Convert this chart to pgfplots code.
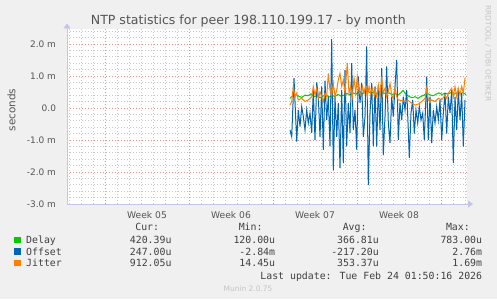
\documentclass[border=0pt]{standalone}
\usepackage{pgfplots}
\pgfplotsset{compat=1.18}
\usepackage{fontspec}
\setmainfont{DejaVu Sans}
\newfontfamily\monofont{DejaVu Sans Mono}
\usetikzlibrary{arrows.meta}
\definecolor{bgc}{HTML}{F0F0F0}
\definecolor{delayc}{HTML}{00CC00}
\definecolor{offsetc}{HTML}{0066B3}
\definecolor{jitterc}{HTML}{FF8000}
\definecolor{gridc}{HTML}{C8C8C8}
\definecolor{mgridc}{HTML}{E09090}
\definecolor{axisc}{HTML}{C4C4EC}
\definecolor{txtc}{HTML}{555555}
\definecolor{faintc}{HTML}{C4C4C4}
\begin{document}
\begin{tikzpicture}[x=1bp,y=1bp]
\fill[bgc] (0,0) rectangle (497,299);
\begin{axis}[
  at={(67bp,95bp)}, anchor=south west,
  scale only axis, width=400bp, height=174.5bp,
  xmin=67, xmax=467, ymin=-3, ymax=2.45,
  axis background/.style={fill=white},
  axis x line=bottom, axis y line=left,
  axis line style={draw=axisc, line width=0.9bp, -{Triangle[length=5bp,width=7bp]}, shorten >=-6bp},
  tick style={draw=none},
  xtick={147,231,315,399},
  xticklabels={Week 05,Week 06,Week 07,Week 08},
  xticklabel style={font=\fontsize{9.2}{10}\selectfont, text=txtc, anchor=base, inner sep=0pt, yshift=-12bp},
  extra x ticks={105,189,273,357,441},
  extra x tick labels={},
  extra x tick style={grid=major},
  minor xtick={69,81,...,465},
  xminorgrids,
  ytick={-3,-2,-1,0,1,2},
  yticklabels={-3.0 m,-2.0 m,-1.0 m,0.0,1.0 m,2.0 m},
  yticklabel style={font=\fontsize{9}{10}\selectfont, text=txtc, anchor=east, inner sep=0pt, xshift=-8.7bp},
  ymajorgrids,
  minor ytick={-2.8,-2.6,-2.4,-2.2,-1.8,-1.6,-1.4,-1.2,-0.8,-0.6,-0.4,-0.2,0.2,0.4,0.6,0.8,1.2,1.4,1.6,1.8,2.2,2.4},
  yminorgrids,
  minor grid style={draw=gridc, dash pattern=on 1bp off 2bp, line width=0.7bp},
  major grid style={draw=mgridc, dash pattern=on 1bp off 2bp, line width=0.7bp},
  clip=false,
]
\addplot[draw=delayc, line width=1bp] coordinates {
(290,0.30)(293,0.40)(296,0.42)(299,0.36)(302,0.33)(305,0.40)(308,0.38)(311,0.44)(314,0.35)(317,0.39)(320,0.32)(323,0.37)(326,0.41)(329,0.34)(332,0.38)(335,0.36)(338,0.42)(341,0.37)(344,0.40)(347,0.45)(350,0.41)(353,0.47)(356,0.43)(359,0.50)(362,0.44)(365,0.48)(368,0.52)(371,0.46)(374,0.50)(377,0.45)(380,0.43)(383,0.48)(386,0.44)(389,0.47)(392,0.42)(395,0.45)(398,0.40)(401,0.48)(403,0.55)(406,0.42)(409,0.36)(412,0.32)(415,0.35)(418,0.30)(421,0.36)(424,0.40)(427,0.46)(430,0.41)(433,0.38)(436,0.43)(439,0.47)(442,0.42)(445,0.46)(448,0.44)(451,0.48)(454,0.43)(457,0.47)(460,0.44)(463,0.48)(466,0.42)
};
\addplot[draw=offsetc, line width=1bp] coordinates {
(290,-0.69)(291.7,-0.90)(294,0.93)(296.7,-1.05)(298.3,-0.06)(300,-0.58)(301.7,0.04)(303.3,-0.27)(305,-0.69)(306.7,-0.06)(308.3,-0.47)(310,-0.16)(311.7,-0.78)(313.3,0.55)(315,-1.0)(316.7,0.80)(318.3,0.35)(320,-0.90)(321.7,0.67)(323.3,-1.31)(325,0.85)(326.7,-0.38)(328.3,0.35)(330,-1.2)(331.7,2.15)(333.3,-1.95)(335,0.35)(336.7,-0.90)(338.3,0.16)(340,-1.88)(341.7,0.56)(343.3,-1.72)(345,1.19)(346.7,-1.2)(348.3,0.16)(350,-0.78)(351.7,1.40)(353.3,-0.69)(355,-0.06)(356.7,-1.3)(358.3,0.97)(360,0.16)(361.7,0.78)(363.3,-0.90)(365,-0.27)(366.7,1.92)(368.3,-2.40)(370,-0.16)(371.7,0.78)(373.3,-1.2)(375,0.67)(376.7,-1.21)(378.3,0.67)(380,-0.69)(381.7,1.25)(383.3,-1.47)(385,-0.27)(386.7,1.30)(388.3,-0.47)(390,-1.09)(391.7,0.35)(393.3,-0.27)(395,0.67)(396.7,1.50)(398.3,-1.0)(400,0.16)(401.7,-0.38)(403.3,0.35)(405,-0.06)(406.7,0.56)(408.3,-0.69)(409.3,-1.56)(411,-0.16)(412.7,0.25)(414.3,-0.80)(416,-0.06)(417.7,-0.47)(419.3,0.04)(421,-0.38)(422.7,-0.16)(424.3,-1.0)(426.7,0.98)(428.3,-1.0)(430,0.35)(431.7,-1.1)(433.3,-0.06)(435,-0.47)(436.7,0.04)(438.3,-0.38)(440,0.25)(441.7,-1.0)(443.3,-0.16)(445,0.47)(446.7,-0.8)(448.3,0.35)(450,-0.16)(451.7,0.56)(453.3,-1.72)(455,0.35)(456.7,-0.69)(458.3,0.56)(460,-0.38)(461.7,0.47)(463.3,-1.21)(465,0.25)
};
\addplot[draw=jitterc, line width=1bp] coordinates {
(290,0.09)(291.7,0.20)(293.3,0.67)(295,0.35)(296.7,0.46)(298.3,0.25)(301.7,0.30)(305,0.20)(308.3,0.25)(311.7,0.35)(313.3,0.67)(315,0.40)(316.7,0.62)(318.3,0.30)(320,0.51)(321.7,0.35)(323.3,0.20)(325,0.46)(326.7,0.35)(328.3,1.08)(330,0.56)(331.7,0.40)(333.3,0.77)(335,0.35)(336.7,0.56)(338.3,0.88)(340,1.08)(341.7,0.67)(343.3,0.88)(345,0.46)(347.3,1.40)(349,0.46)(350.7,0.67)(352.3,0.35)(354,0.93)(355.7,0.46)(357.3,0.98)(359,0.51)(360.7,0.40)(362.3,0.67)(364,0.46)(365.7,0.72)(367.3,0.35)(369,0.67)(370.7,0.46)(372.3,0.62)(374.3,0.40)(375,0.56)(376.7,0.35)(378.3,0.72)(380,0.35)(381.7,0.98)(383.3,0.46)(385,0.62)(386.7,0.35)(388.3,0.51)(390,0.77)(391.7,0.40)(393.3,0.30)(395,0.62)(396.7,0.35)(398.3,0.25)(401.7,0.23)(405,0.20)(408.3,0.23)(411.7,0.15)(415,0.09)(418.3,0.12)(421.7,0.20)(425,0.30)(426.7,0.62)(428.3,0.25)(430,0.20)(431.7,0.25)(435,0.20)(438.3,0.30)(441.7,0.25)(445,0.40)(446.7,0.30)(448.3,0.46)(451.7,0.62)(453.3,0.35)(455,0.67)(456.7,0.35)(458.3,0.62)(460,0.40)(461.7,0.67)(463.3,0.46)(465,0.93)
};
\end{axis}
% title and axis label
\node[font=\fontsize{12.6}{14}\selectfont, text=txtc, anchor=base, inner sep=0pt] at (248.3,275) {NTP statistics for peer 198.110.199.17 - by month};
\node[font=\fontsize{10.5}{12}\selectfont, text=txtc, rotate=90, inner sep=0pt] at (11.5,189) {seconds};
\node[font=\fontsize{7.5}{9}\selectfont, text=faintc, rotate=-90, inner sep=0pt] at (488,245.5) {RRDTOOL / TOBI OETIKER};
% legend
\begin{scope}[every node/.style={font=\monofont\fontsize{9.9}{11}\selectfont, text=black!75, inner sep=0pt}]
\node[anchor=base east] at (159.3,68.3) {Cur:};
\node[anchor=base east] at (262.7,68.3) {Min:};
\node[anchor=base east] at (366.7,68.3) {Avg:};
\node[anchor=base east] at (470,68.3) {Max:};
\fill[delayc] (14,56) rectangle (20.5,62.5);
\fill[offsetc] (14,44.3) rectangle (20.5,50.8);
\fill[jitterc] (14,32.6) rectangle (20.5,39.1);
\node[anchor=base west] at (26,55.7) {Delay};
\node[anchor=base west] at (26,44) {Offset};
\node[anchor=base west] at (26,32.3) {Jitter};
\node[anchor=base east] at (171.7,55.7) {420.39u};
\node[anchor=base east] at (275.3,55.7) {120.00u};
\node[anchor=base east] at (379,55.7) {366.81u};
\node[anchor=base east] at (482.3,55.7) {783.00u};
\node[anchor=base east] at (171.7,44) {247.00u};
\node[anchor=base east] at (275.3,44) {-2.84m};
\node[anchor=base east] at (379,44) {-217.20u};
\node[anchor=base east] at (482.3,44) {2.76m};
\node[anchor=base east] at (171.7,32.3) {912.05u};
\node[anchor=base east] at (275.3,32.3) {14.45u};
\node[anchor=base east] at (379,32.3) {353.37u};
\node[anchor=base east] at (482.3,32.3) {1.69m};
\node[anchor=base east] at (482.3,20) {Last update: Tue Feb 24 01:50:16 2026};
\end{scope}
\node[font=\fontsize{7.5}{9}\selectfont, text=faintc, anchor=base, inner sep=0pt] at (248,7.3) {Munin 2.0.75};
\end{tikzpicture}
\end{document}
